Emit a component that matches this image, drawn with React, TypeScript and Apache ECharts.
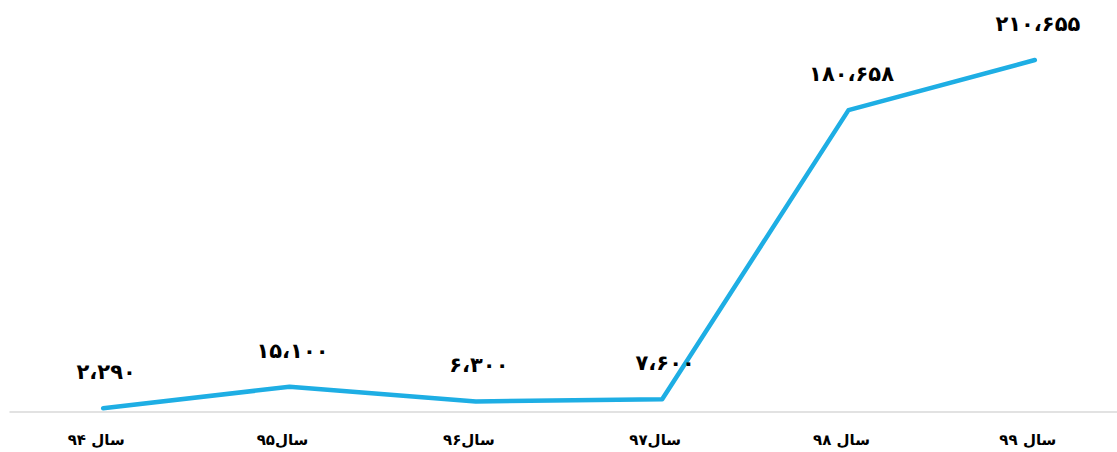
import React, { useEffect, useRef } from "react";
import * as echarts from "echarts";

// Years shown on the category axis
const categories: string[] = ["سال ۹۴", "سال۹۵", "سال۹۶", "سال۹۷", "سال ۹۸", "سال ۹۹"];
// Yearly totals
const values: number[] = [2290, 15100, 6300, 7600, 180658, 210655];

const persianDigits = "۰۱۲۳۴۵۶۷۸۹";

// 180658 -> ۱۸۰،۶۵۸
function toPersian(n: number): string {
  const grouped = String(n).replace(/\B(?=(\d{3})+(?!\d))/g, "،");
  return grouped.replace(/\d/g, (d) => persianDigits[Number(d)]);
}

const FONT = "'DejaVu Sans', 'Noto Sans', sans-serif";

export default function App() {
  const ref = useRef<HTMLDivElement>(null);

  useEffect(() => {
    if (!ref.current) return;
    const chart = echarts.init(ref.current, null, { renderer: "svg" });
    chart.setOption({
      animation: false,
      backgroundColor: "#ffffff",
      grid: {
        left: 10,
        top: 11,
        width: 1118,
        bottom: 40,
        containLabel: false,
        outerBoundsMode: "none",
      },
      xAxis: {
        type: "category",
        data: categories,
        boundaryGap: true,
        axisLine: { show: true, lineStyle: { color: "#d9d9d9", width: 1.5 } },
        axisTick: { show: false },
        axisLabel: {
          color: "#000000",
          fontFamily: FONT,
          fontWeight: "bold",
          fontSize: 15,
          margin: 20,
          padding: [0, 14, 0, 0],
        },
        splitLine: { show: false },
      },
      yAxis: {
        type: "value",
        min: 0,
        max: 240000,
        show: false,
        splitLine: { show: false },
      },
      series: [
        {
          type: "line",
          data: values,
          showSymbol: true,
          symbol: "circle",
          symbolSize: 1,
          itemStyle: { color: "rgba(0,0,0,0)" },
          lineStyle: { color: "#1eaee4", width: 4.5, cap: "round", join: "round" },
          label: {
            show: true,
            position: "top",
            distance: 25,
            offset: [3, 0],
            color: "#000000",
            fontFamily: FONT,
            fontWeight: "bold",
            fontSize: 21,
            formatter: (p: any) => toPersian(p.value as number),
          },
        },
      ],
    });
    return () => chart.dispose();
  }, []);

  return (
    <div
      ref={ref}
      style={{ position: "fixed", left: 0, top: 0, width: 1117, height: 452, overflow: "hidden" }}
    />
  );
}
